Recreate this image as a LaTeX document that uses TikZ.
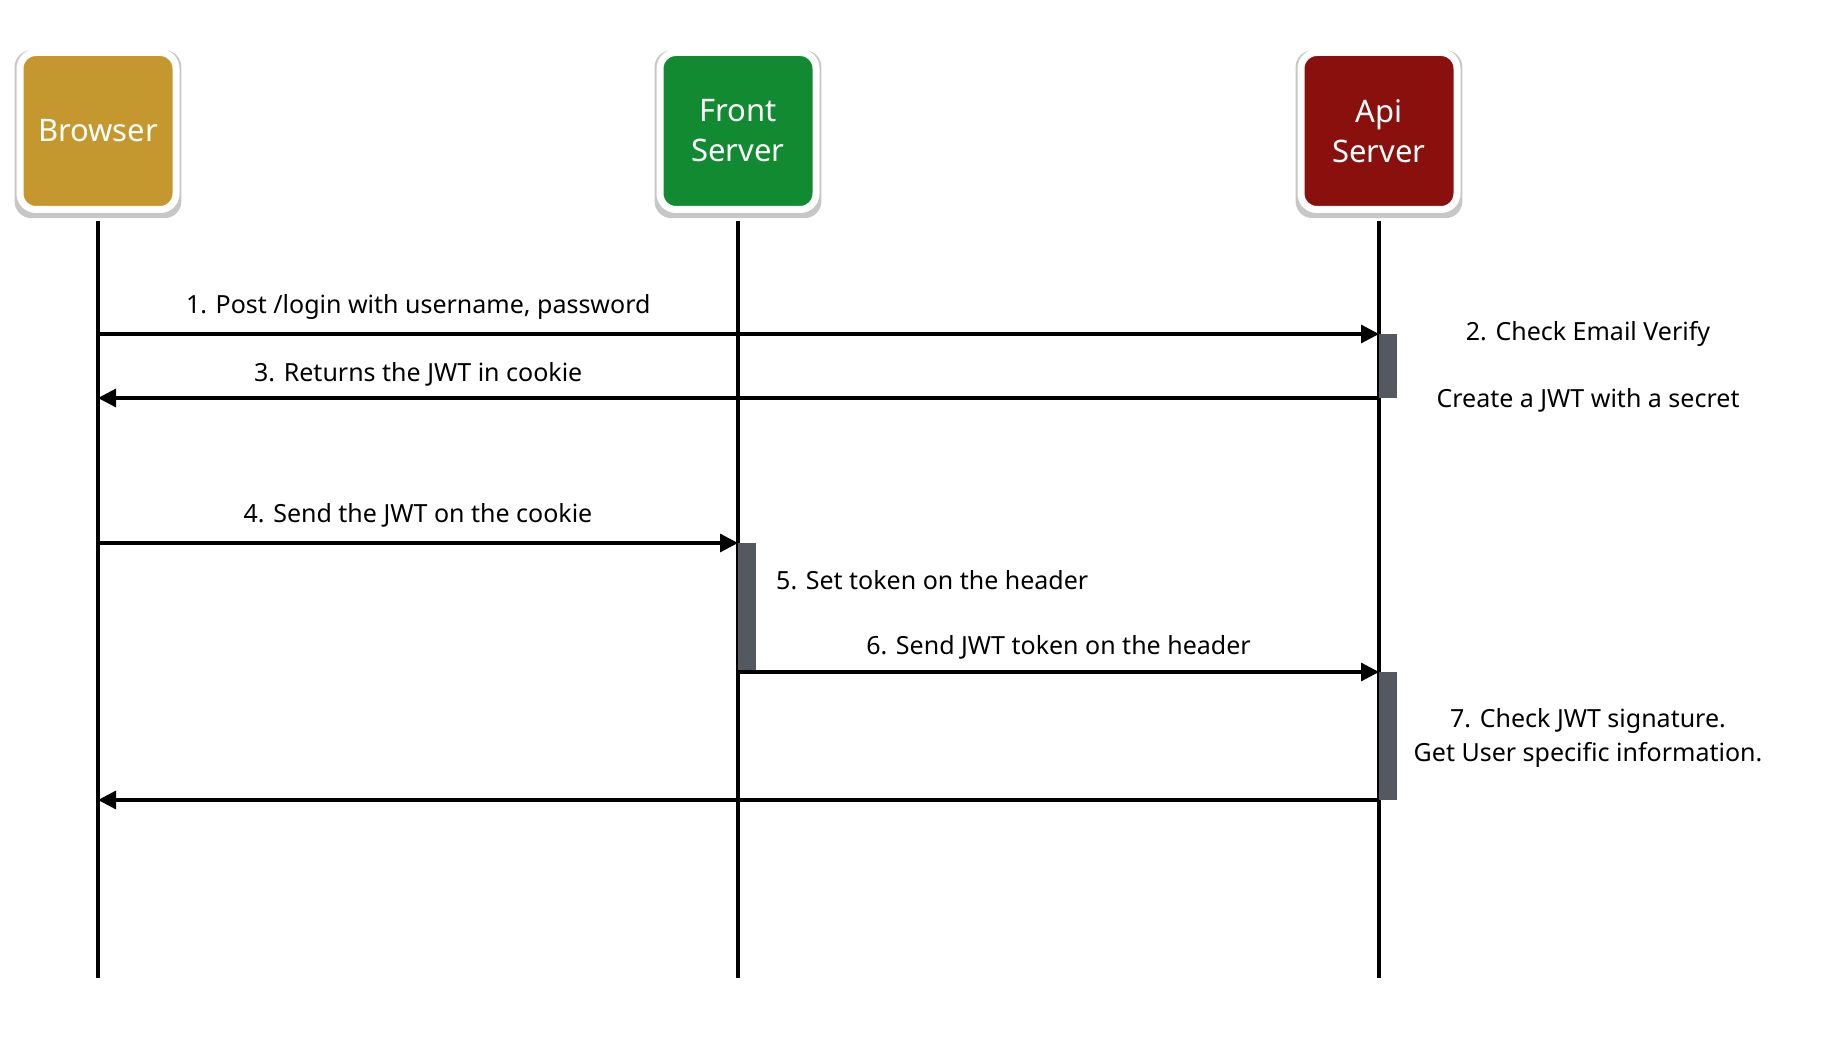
\documentclass[tikz,border=0pt]{standalone}
\usepackage{fontspec}
\setmainfont{Noto Sans}
\usetikzlibrary{positioning,arrows.meta,shadows}
\definecolor{browsergold}{HTML}{C4982E}
\definecolor{frontgreen}{HTML}{128A32}
\definecolor{apired}{HTML}{8A100E}
\definecolor{bargray}{HTML}{54595F}
\tikzset{actor/.style={draw=white,line width=7pt,rounded corners=16pt,minimum width=156pt,minimum height=157pt,
		inner sep=0pt,align=center,text=white,font=\fontsize{31}{40}\selectfont,
		drop shadow={shadow scale=1.07,shadow xshift=0pt,shadow yshift=-3pt,opacity=0.22,fill=black}},
	lifeline/.style={line width=3.2pt},
	msg/.style={line width=3.2pt,-{Triangle[length=18pt,width=18pt]}},
	label/.style={font=\fontsize{25}{34}\selectfont,inner sep=0pt,align=center},
	activation/.style={fill=bargray},
}

\begin{document}
\begin{tikzpicture}[x=1pt,y=-1pt]
	\useasboundingbox (0,0) rectangle (1826,1048);
	\node[actor,fill=browsergold] (browser) at (98,131) {Browser};
	\node[actor,fill=frontgreen] (front) at (738,131) {Front\\Server};
	\node[actor,fill=apired] (api) at (1379,131) {Api\\Server};
	
	% message levels
	\coordinate (m1) at (0,334);
	\coordinate (m3) at (0,398);
	\coordinate (m4) at (0,543);
	\coordinate (m6) at (0,672);
	\coordinate (m8) at (0,800);
	\coordinate (bottom) at (0,978);
	
	\foreach \who in {browser,front,api}
	\draw[lifeline] ([yshift=-8pt]\who.south) -- (\who |- bottom);
	
	\fill[activation] (api |- m1) rectangle ([xshift=18pt]api |- m3);
	\fill[activation] (front |- m4) rectangle ([xshift=18pt]front |- m6);
	\fill[activation] (api |- m6) rectangle ([xshift=18pt]api |- m8);
	
	\draw[msg] (browser |- m1) -- (api |- m1)
	node[label,pos=0.25,above=13pt] (l1) {1. Post /login with username, password};
	\draw[msg] (api |- m3) -- (browser |- m3)
	node[label,pos=0.75,above=10pt] (l3) {3. Returns the JWT in cookie};
	\draw[msg] (browser |- m4) -- (front |- m4)
	node[label,midway,above=14pt] (l4) {4. Send the JWT on the cookie};
	\draw[msg] (front |- m6) -- (api |- m6)
	node[label,midway,above=11pt] (l6) {6. Send JWT token on the header};
	\draw[msg] (api |- m8) -- (browser |- m8);
	
	\node[label] (note2) at (1588,334) {2. Check Email Verify};
	\node[label] (note2b) at (1588,400) {Create a JWT with a secret};
	\node[label,anchor=west] (note5) at (776,580) {5. Set token on the header};
	\node[label] (note7) at (1588,738) {7. Check JWT signature.\\Get User specific information.};
\end{tikzpicture}
\end{document}
